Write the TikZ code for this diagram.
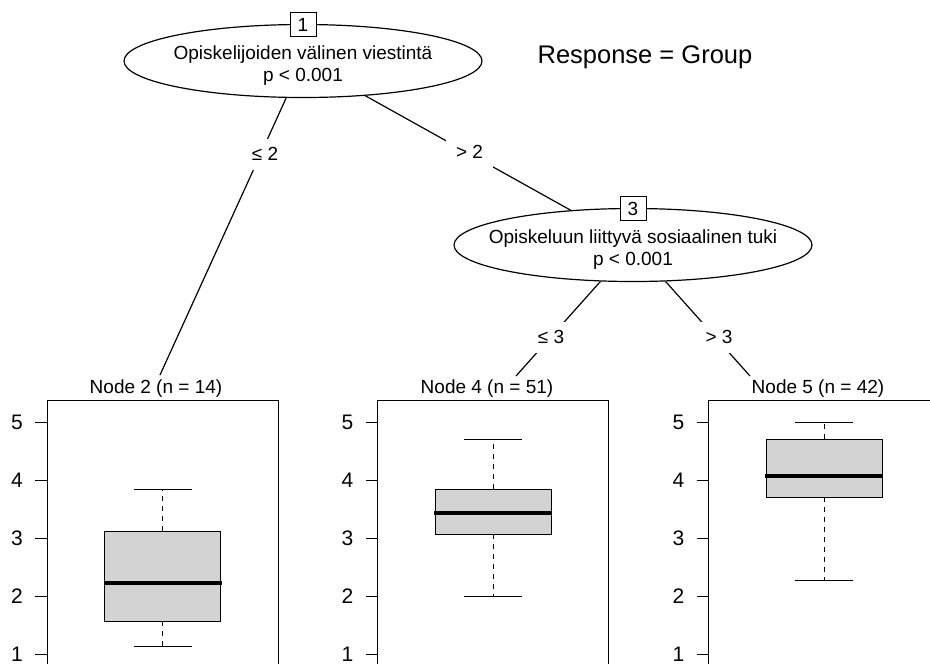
\documentclass[tikz,border=0pt]{standalone}
\usepackage{fontspec}
\setmainfont{Liberation Sans}
\usetikzlibrary{shapes.geometric}
\definecolor{boxgray}{RGB}{211,211,211}
\begin{document}
\begin{tikzpicture}[x=1pt,y=-1pt,
  every node/.style={font=\fontsize{19}{22}\selectfont, inner sep=0pt},
  splitnode/.style={ellipse, draw, line width=1.2pt, fill=white,
    minimum width=358pt, minimum height=73pt},
  idbox/.style={draw, fill=white, line width=1pt,
    minimum width=26pt, minimum height=24pt},
  edgelab/.style={fill=white, minimum width=47pt, minimum height=31pt},
  treeedge/.style={line width=1.2pt},
  panelframe/.style={draw, line width=1pt},
  ticktick/.style={line width=1pt},
  ticklabel/.style={font=\fontsize{21}{24}\selectfont},
  iqrbox/.style={fill=boxgray, draw, line width=1pt},
  medianline/.style={line width=3.6pt},
  whiskerline/.style={line width=1pt, dash pattern=on 5pt off 5pt},
  whiskercap/.style={line width=1pt},
  title/.style={anchor=base}]

\useasboundingbox (0,0) rectangle (930,664);
\clip (0,0) rectangle (930,664);

% inner split nodes
\node[splitnode] (n1) at (303,61) {};
\node[splitnode] (n3) at (633,245) {};

\node[anchor=base] (n1a) at (303,59.5) {Opiskelijoiden välinen viestintä};
\node[anchor=base] (n1b) at (303,81.5) {p < 0.001};
\node[anchor=base] (n3a) at (633,243.5) {Opiskeluun liittyvä sosiaalinen tuki};
\node[anchor=base] (n3b) at (633,265.5) {p < 0.001};

\node[idbox] (id1) at (303,24.5) {1};
\node[idbox] (id3) at (633,208.5) {3};

\node[anchor=base, font=\fontsize{25.5}{30}\selectfont] (resp) at (645,63) {Response = Group};

% ends of the edges at the terminal panels
\coordinate (t2) at (160,375);
\coordinate (t4) at (516,376);
\coordinate (t5) at (750,376);

% edges
\draw[treeedge] (n1) -- (t2);
\draw[treeedge] (n1) -- (n3);
\draw[treeedge] (n3) -- (t4);
\draw[treeedge] (n3) -- (t5);

% edge labels
\node[edgelab] (e12) at (265,154) {≤ 2};
\node[edgelab] (e13) at (469.5,152) {> 2};
\node[edgelab] (e34) at (551,337) {≤ 3};
\node[edgelab] (e35) at (719,337) {> 3};

% terminal panels with boxplots
\foreach \cx/\lo/\qa/\md/\qb/\hi/\tx/\nm/\nn in
  {162.5/646/621/583/531/489/156/2/14,
   493/596/534/513/489/439/487/4/51,
   824/580/497/476/439/422/818/5/42}
{
  \node[title] (term\nm) at (\tx,393) {Node \nm\ (n = \nn)};
  \draw[panelframe] ({\cx-115.5},400) rectangle ({\cx+115.5},720);
  \foreach \v in {1,...,5} {
    \draw[ticktick] ({\cx-127.5},{654-(\v-1)*58}) -- ({\cx-115.5},{654-(\v-1)*58});
    \node[ticklabel] (lab\nm\v) at ({\cx-145.5},{654-(\v-1)*58}) {\v};
  }
  \draw[whiskerline] (\cx,\qa) -- (\cx,\lo);
  \draw[whiskerline] (\cx,\qb) -- (\cx,\hi);
  \draw[whiskercap] ({\cx-29},\lo) -- ({\cx+29},\lo);
  \draw[whiskercap] ({\cx-29},\hi) -- ({\cx+29},\hi);
  \draw[iqrbox] ({\cx-58},\qa) rectangle ({\cx+58},\qb);
  \draw[medianline] ({\cx-59},\md) -- ({\cx+59},\md);
}
\end{tikzpicture}
\end{document}
